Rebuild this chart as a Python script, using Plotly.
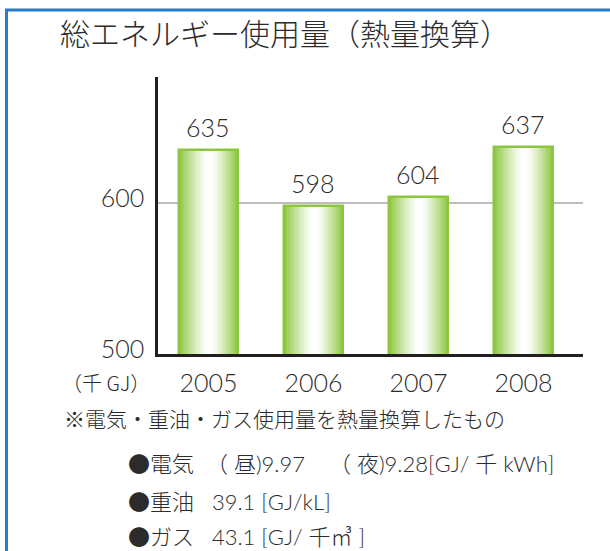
import plotly.graph_objects as go

# ---- data ----
years = ["2005", "2006", "2007", "2008"]
values = [635, 598, 604, 637]
y_ticks = [500, 600]
y_tick_labels = ["500", "600"]
title_text = "総エネルギー使用量（熱量換算）"
unit_text = "（千 GJ）"
note_lines = [
    "※電気・重油・ガス使用量を熱量換算したもの",
    "●電気  （ 昼)9.97    （ 夜)9.28[GJ/ 千 kWh]",
    "●重油   39.1 [GJ/kL]",
    "●ガス   43.1 [GJ/ 千㎥ ]",
]

# ---- style ----
GREEN = (140, 198, 63)
TEXT = "#2b2b2b"
NUM_FONT = "Lato, Noto Sans CJK JP"
JP_FONT = "Noto Sans CJK JP, Lato"

L, R, T, B = 158, 27, 77, 197
W, H = 610, 551
pw, ph = W - L - R, H - T - B


def px(x):
    return (x - L) / pw


def py(y):
    return (H - B - y) / ph


bar_w = 0.562
N = 36
fig = go.Figure()


def strip_color(t):
    c = 0.52
    if t < c:
        d = (c - t) / c
    else:
        d = (t - c) / (1 - c)
    d = max(0.0, min(1.0, (d - 0.08) / 0.92))
    f = d ** 1.2
    r = round(255 + (GREEN[0] - 255) * f)
    g = round(255 + (GREEN[1] - 255) * f)
    b = round(255 + (GREEN[2] - 255) * f)
    return f"rgb({r},{g},{b})"


sw = bar_w / N
for i in range(N):
    t = (i + 0.5) / N
    fig.add_trace(go.Bar(
        x=years, y=values,
        width=sw * 1.6 if i < N - 1 else sw,
        offset=-bar_w / 2 + i * sw,
        marker=dict(color=strip_color(t), line=dict(width=0)),
        hoverinfo="skip", showlegend=False,
    ))

# outline
fig.add_trace(go.Bar(
    x=years, y=values, width=bar_w,
    marker=dict(color="rgba(0,0,0,0)", line=dict(color="rgb(140,198,63)", width=2.5)),
    showlegend=False, hovertemplate="%{x}: %{y}<extra></extra>",
))

# value labels (category index positions)
for i, v in enumerate(values):
    fig.add_annotation(x=i, y=v, xref="x", yref="y", text=str(v), showarrow=False,
                       yanchor="bottom", yshift=6,
                       font=dict(family=NUM_FONT, size=25, color=TEXT, weight=300))

# unit & notes
fig.add_annotation(x=px(60), y=py(382), xref="paper", yref="paper", text=unit_text,
                   showarrow=False, xanchor="left", yanchor="middle",
                   font=dict(family=JP_FONT, size=20, color=TEXT, weight=300))
note_pos = [(62, 418), (126, 462), (126, 500), (126, 535)]
note_sizes = [21, 22, 22, 22]
for txt, (nx, ny), fs in zip(note_lines, note_pos, note_sizes):
    txt = txt.replace("●", "<span style='font-family:Noto Sans CJK JP'>●</span>")
    fig.add_annotation(x=px(nx), y=py(ny), xref="paper", yref="paper", text=txt,
                       showarrow=False, xanchor="left", yanchor="middle",
                       font=dict(family=NUM_FONT, size=fs, color=TEXT, weight=300))

# blue frame
fig.add_shape(type="rect", xref="paper", yref="paper",
              x0=px(6.5), x1=px(625), y0=py(570), y1=py(10),
              line=dict(color="#2b7bc6", width=3), fillcolor="rgba(0,0,0,0)", layer="below")

fig.update_layout(
    width=W, height=H,
    margin=dict(l=L, r=R, t=T, b=B, pad=0),
    paper_bgcolor="white", plot_bgcolor="white",
    barmode="overlay", bargap=0,
    title=dict(text=title_text, x=60 / W, xanchor="left", y=1 - 34 / H, yanchor="middle",
               font=dict(family=JP_FONT, size=30, color=TEXT, weight=300)),
    xaxis=dict(type="category", range=[-0.48, 3.567], showline=True, linecolor="#231f20",
               linewidth=2.5, showgrid=False, ticks="", ticklabelstandoff=5,
               tickfont=dict(family=NUM_FONT, size=25, color=TEXT, weight=300), fixedrange=True),
    yaxis=dict(range=[500, 683.4], tickvals=y_ticks, ticktext=y_tick_labels,
               showline=True, linecolor="#231f20", linewidth=2.5,
               showgrid=True, gridcolor="#bdbdbd", gridwidth=2, zeroline=False,
               ticks="", ticklabelstandoff=6, ticklabelshift=-5,
               tickfont=dict(family=NUM_FONT, size=25, color=TEXT, weight=300), fixedrange=True),
)

fig.write_html("out.html", config={"displayModeBar": False},
               post_script="document.body.style.margin='0px';")
